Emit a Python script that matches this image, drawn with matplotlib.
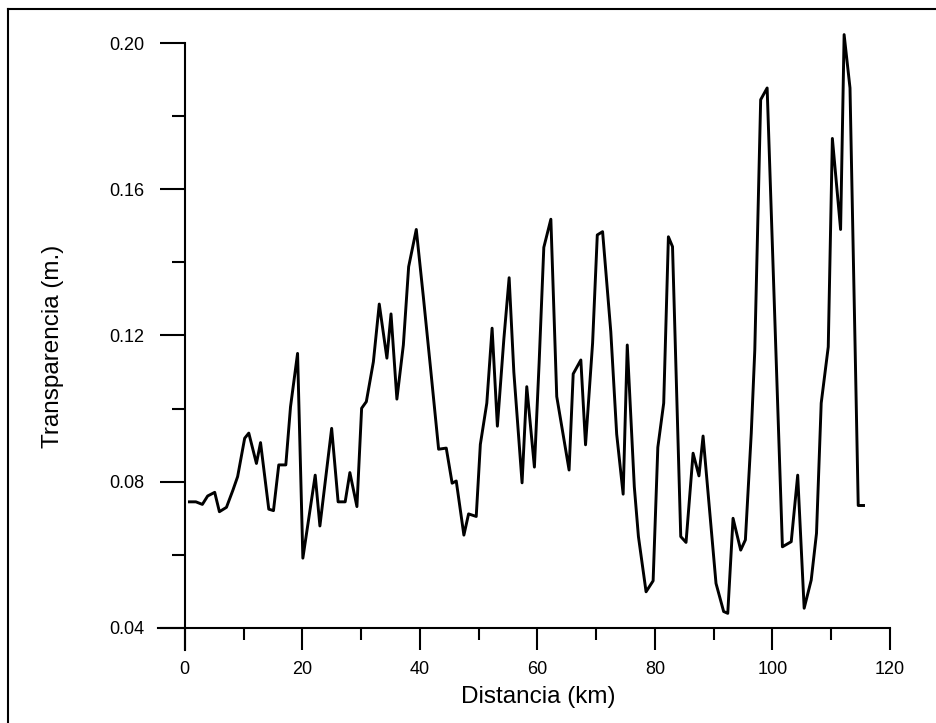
import numpy as np
import matplotlib.pyplot as plt
from matplotlib.ticker import MultipleLocator

plt.rcParams['font.family'] = ['Liberation Sans', 'DejaVu Sans']

# 1. Data
distancia = [0.8, 1.9, 3.0, 3.9, 5.1, 5.9, 7.1, 8.2, 9.0, 10.2,
             10.9, 12.2, 12.9, 14.3, 15.1, 16.0, 17.2, 18.0, 19.2, 20.1,
             22.2, 23.0, 25.0, 26.1, 27.3, 28.1, 29.3, 30.1, 30.9, 32.1,
             33.1, 34.4, 35.1, 36.1, 37.2, 38.1, 39.4, 40.6, 41.8, 43.2,
             44.5, 45.5, 46.2, 47.5, 48.3, 49.6, 50.3, 51.4, 52.3, 53.2,
             54.3, 55.2, 56.0, 57.4, 58.2, 59.5, 60.3, 61.1, 62.3, 63.3,
             65.4, 66.1, 67.4, 68.2, 69.4, 70.2, 71.1, 72.5, 73.5, 74.6,
             75.3, 76.5, 77.2, 78.5, 79.7, 80.5, 81.5, 82.3, 83.0, 84.4,
             85.3, 86.5, 87.5, 88.2, 90.4, 91.7, 92.4, 93.3, 94.6, 95.4,
             96.4, 97.0, 98.0, 99.1, 101.7, 103.2, 104.3, 105.4, 106.6, 107.5,
             108.3, 109.5, 110.2, 111.6, 112.2, 113.2, 114.6, 115.5]

transparencia = [0.0745, 0.0745, 0.0738, 0.0761, 0.0771, 0.0718, 0.0730, 0.0777, 0.0814, 0.0919,
                 0.0933, 0.0850, 0.0907, 0.0725, 0.0721, 0.0846, 0.0846, 0.1005, 0.1151, 0.0591,
                 0.0818, 0.0679, 0.0946, 0.0745, 0.0745, 0.0825, 0.0732, 0.1001, 0.1019, 0.1128,
                 0.1286, 0.1138, 0.1259, 0.1026, 0.1174, 0.1388, 0.1490, 0.1306, 0.1115, 0.0889,
                 0.0892, 0.0796, 0.0802, 0.0654, 0.0712, 0.0705, 0.0902, 0.1015, 0.1220, 0.0952,
                 0.1190, 0.1358, 0.1100, 0.0797, 0.1060, 0.0840, 0.1124, 0.1441, 0.1518, 0.1033,
                 0.0832, 0.1095, 0.1133, 0.0901, 0.1179, 0.1475, 0.1484, 0.1210, 0.0930, 0.0766,
                 0.1174, 0.0786, 0.0650, 0.0499, 0.0529, 0.0894, 0.1015, 0.1470, 0.1443, 0.0650,
                 0.0634, 0.0878, 0.0816, 0.0925, 0.0522, 0.0445, 0.0440, 0.0700, 0.0613, 0.0641,
                 0.0933, 0.1160, 0.1845, 0.1877, 0.0622, 0.0636, 0.0818, 0.0454, 0.0531, 0.0659,
                 0.1015, 0.1169, 0.1739, 0.1490, 0.2023, 0.1877, 0.0735, 0.0735]

x_ticks = [0, 20, 40, 60, 80, 100, 120]
y_ticks = [0.04, 0.08, 0.12, 0.16, 0.20]
y_labels = ["0.04", "0.08", "0.12", "0.16", "0.20"]

# 2. Figure
fig = plt.figure(figsize=(9.37, 7.23), dpi=100)
ax = fig.add_axes([0.1683, 0.1011, 0.7815, 0.8394])

ax.plot(distancia, transparencia, color="black", linewidth=2.1, clip_on=False)

# axes cross like in the original (spines through 0 and 0.04)
ax.set_xlim(-4.6, 120)
ax.set_ylim(0.034, 0.20)
ax.spines["left"].set_position(("data", 0))
ax.spines["bottom"].set_position(("data", 0.04))
ax.spines["top"].set_visible(False)
ax.spines["right"].set_visible(False)
for s in ["left", "bottom"]:
    ax.spines[s].set_linewidth(1.5)

ax.set_xticks(x_ticks)
ax.set_yticks(y_ticks)
ax.set_yticklabels(y_labels)
ax.xaxis.set_minor_locator(MultipleLocator(10))
ax.yaxis.set_minor_locator(MultipleLocator(0.02))
ax.tick_params(axis="y", which="major", length=18, width=1.5, pad=11, labelsize=13)
ax.tick_params(axis="y", which="minor", length=9.5, width=1.5)
ax.tick_params(axis="x", which="major", length=16, width=1.5, pad=8, labelsize=13)
ax.tick_params(axis="x", which="minor", length=8.5, width=1.5)

ax.set_xlabel("Distancia (km)", fontsize=17.5)
ax.set_ylabel("Transparencia (m.)", fontsize=17.5)
ax.xaxis.set_label_coords(0.52, -0.06)
ax.yaxis.set_label_coords(-0.128, 0.5)

# scan frame (top and left edges)
fig.add_artist(plt.Line2D([8 / 937, 8 / 937], [0, 1 - 9 / 723], transform=fig.transFigure,
                          color="black", linewidth=1.5))
fig.add_artist(plt.Line2D([8 / 937, 1], [1 - 9 / 723, 1 - 9 / 723], transform=fig.transFigure,
                          color="black", linewidth=1.5))

fig.savefig("out.png", dpi=100)
